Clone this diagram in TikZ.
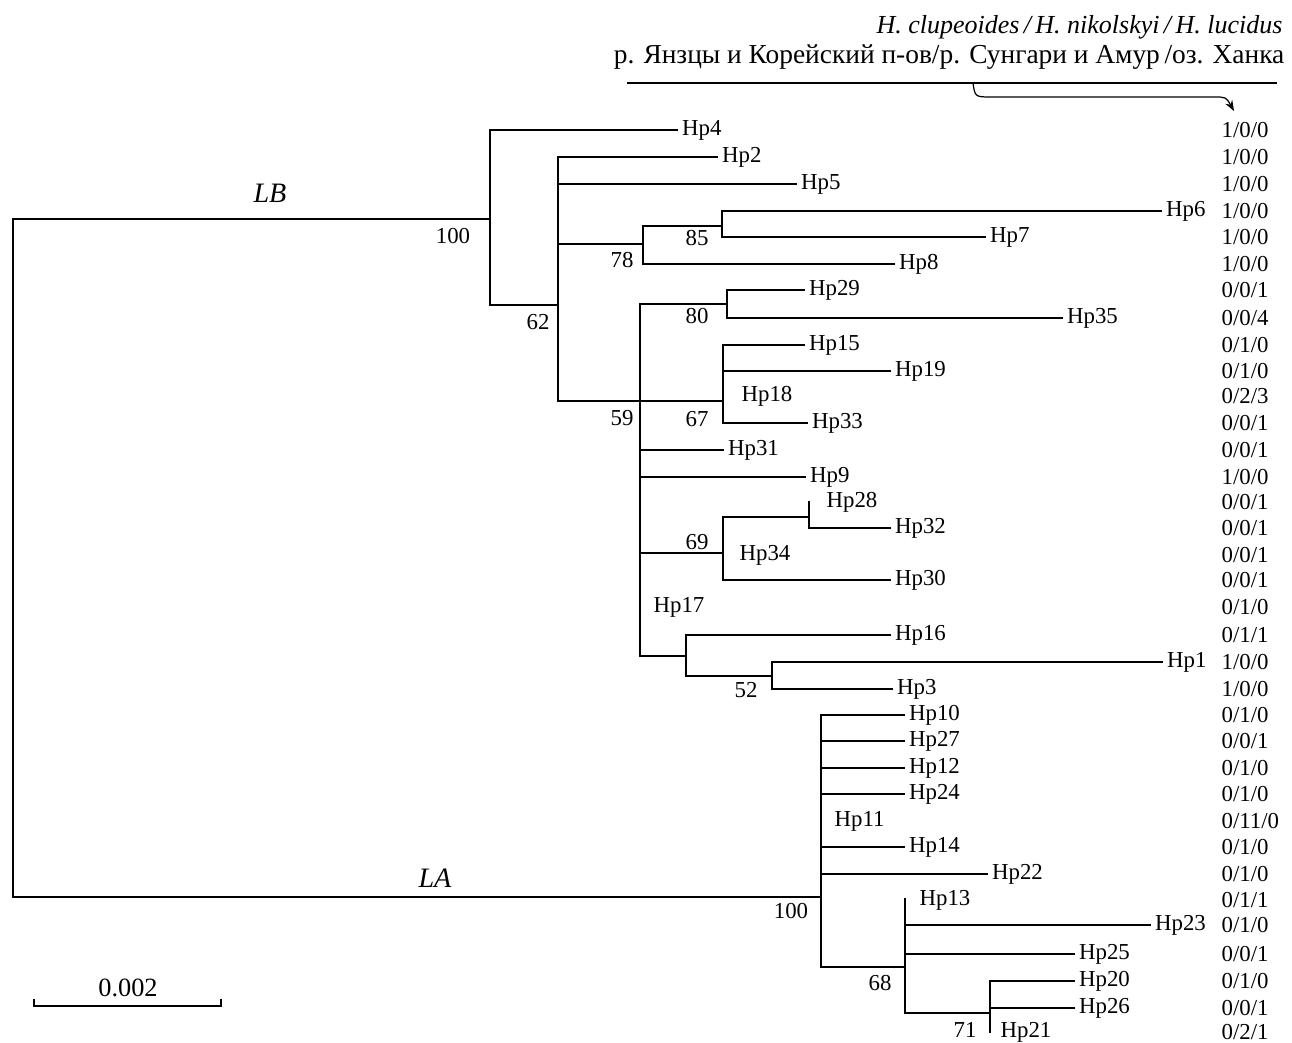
\documentclass[tikz,border=0pt]{standalone}
\usepackage{fontspec}
\setmainfont{Liberation Serif}
\usetikzlibrary{arrows.meta}
\tikzset{
  leaf/.style={anchor=west, inner sep=2pt, font=\fontsize{13}{15}\selectfont},
  tag/.style={anchor=west, inner sep=0pt, font=\fontsize{13}{15}\selectfont},
  boot/.style={inner sep=0pt, font=\fontsize{13}{15}\selectfont},
  cnt/.style={anchor=west, inner sep=0pt, font=\fontsize{13}{15}\selectfont},
  clade/.style={inner sep=0pt, font=\fontsize{16}{18}\selectfont\itshape}
}
\begin{document}
\begin{tikzpicture}[x=0.02cm, y=-0.02cm, line width=0.7pt]
  \useasboundingbox (0,0) rectangle (1292,1042);
  % header
  \node[anchor=base east, inner sep=0pt, font=\fontsize{14.8}{17}\selectfont\itshape] (spp) at (1283,33)
    {H. clupeoides\,/\,H. nikolskyi\,/\,H. lucidus};
  \node[anchor=base east, inner sep=0pt, font=\fontsize{15.6}{18}\selectfont] (rivers) at (1285,63)
    {р. Янзцы и Корейский п-ов/р. Сунгари и Амур\,/оз. Ханка};
  \coordinate (hl) at (627,83);
  \coordinate (hr) at (1277,83);
  \draw (hl) -- (hr);
  \coordinate (ast) at (973,83);
  \coordinate (aend) at (1234,111);
  \draw[-{Stealth[length=6pt, width=4.5pt]}] (ast) .. controls (975,97) .. (992,97)
    -- (1214,97) .. controls (1226,97) .. (aend);
  % root and the two lineages
  \coordinate (rB) at (13,219);
  \coordinate (rA) at (13,897);
  \coordinate (n100B) at (490,219);
  \coordinate (n100A) at (821,897);
  \draw (n100B) -- (rB) -- (rA) -- (n100A);
  \node[clade] (LB) at (270,193) {LB};
  \node[clade] (LA) at (435,878) {LA};
  % internal nodes
  \coordinate (n62) at (558,305);
  \coordinate (n78) at (643,244);
  \coordinate (n85) at (722,226);
  \coordinate (n59) at (640,401);
  \coordinate (n80) at (727,304);
  \coordinate (n67) at (723,401);
  \coordinate (n69) at (723,553);
  \coordinate (n69b) at (809,517);
  \coordinate (n52a) at (686,656);
  \coordinate (n52) at (772,676);
  \coordinate (n68) at (905,967);
  \coordinate (n71) at (990,1013);
  % leaves of LB
  \node[leaf] (hp4) at (678,130) {Hp4};
  \node[leaf] (hp2) at (718,157) {Hp2};
  \node[leaf] (hp5) at (797,184) {Hp5};
  \node[leaf] (hp6) at (1162,211) {Hp6};
  \node[leaf] (hp7) at (986,237) {Hp7};
  \node[leaf] (hp8) at (895,264) {Hp8};
  \node[leaf] (hp29) at (805,290) {Hp29};
  \node[leaf] (hp35) at (1063,318) {Hp35};
  \node[leaf] (hp15) at (805,345) {Hp15};
  \node[leaf] (hp19) at (891,371) {Hp19};
  \node[tag] (hp18) at (741,396) {Hp18};
  \node[leaf] (hp33) at (808,423) {Hp33};
  \node[leaf] (hp31) at (724,450) {Hp31};
  \node[leaf] (hp9) at (806,477) {Hp9};
  \node[tag] (hp28) at (826,502) {Hp28};
  \node[leaf] (hp32) at (891,528) {Hp32};
  \node[tag] (hp34) at (739,555) {Hp34};
  \node[leaf] (hp30) at (891,580) {Hp30};
  \node[tag] (hp17) at (653,607) {Hp17};
  \node[leaf] (hp16) at (891,635) {Hp16};
  \node[leaf] (hp1) at (1163,662) {Hp1};
  \node[leaf] (hp3) at (893,689) {Hp3};
  % leaves of LA
  \node[leaf] (hp10) at (905,715) {Hp10};
  \node[leaf] (hp27) at (905,741) {Hp27};
  \node[leaf] (hp12) at (905,768) {Hp12};
  \node[leaf] (hp24) at (905,794) {Hp24};
  \node[tag] (hp11) at (834,821) {Hp11};
  \node[leaf] (hp14) at (905,847) {Hp14};
  \node[leaf] (hp22) at (988,874) {Hp22};
  \node[tag] (hp13) at (919,900) {Hp13};
  \node[leaf] (hp23) at (1151,925) {Hp23};
  \node[leaf] (hp25) at (1075,954) {Hp25};
  \node[leaf] (hp20) at (1075,981) {Hp20};
  \node[leaf] (hp26) at (1075,1008) {Hp26};
  \node[tag] (hp21) at (1000,1032) {Hp21};
  % branches
  \draw (n100B) |- (hp4.west);
  \draw (n100B) |- (n62);
  \draw (n62) |- (hp2.west);
  \draw (n62) |- (hp5.west);
  \draw (n62) |- (n78);
  \draw (n62) |- (n59);
  \draw (n78) |- (n85);
  \draw (n78) |- (hp8.west);
  \draw (n85) |- (hp6.west);
  \draw (n85) |- (hp7.west);
  \draw (n59) |- (n80);
  \draw (n59) -- (n67);
  \draw (n59) |- (hp31.west);
  \draw (n59) |- (hp9.west);
  \draw (n59) |- (n69);
  \draw (n59) |- (n52a);
  \draw (n80) |- (hp29.west);
  \draw (n80) |- (hp35.west);
  \draw (n67) |- (hp15.west);
  \draw (n67) |- (hp19.west);
  \draw (n67) |- (hp33.west);
  \draw (n69) |- (n69b);
  \draw (n69) |- (hp30.west);
  \draw (n69b) -- ++(0,-16);
  \draw (n69b) |- (hp32.west);
  \draw (n52a) |- (hp16.west);
  \draw (n52a) |- (n52);
  \draw (n52) |- (hp1.west);
  \draw (n52) |- (hp3.west);
  \draw (n100A) |- (hp10.west);
  \draw (n100A) |- (hp27.west);
  \draw (n100A) |- (hp12.west);
  \draw (n100A) |- (hp24.west);
  \draw (n100A) |- (hp14.west);
  \draw (n100A) |- (hp22.west);
  \draw (n100A) |- (n68);
  \draw (n68) -- ++(0,-69);
  \draw (n68) |- (hp23.west);
  \draw (n68) |- (hp25.west);
  \draw (n68) |- (n71);
  \draw (n71) |- (hp20.west);
  \draw (n71) |- (hp26.west);
  \draw (n71) -- ++(0,20);
  % bootstrap values
  \node[boot] (b100B) at (453,236) {100};
  \node[boot] (b62) at (538,322) {62};
  \node[boot] (b78) at (622,260) {78};
  \node[boot] (b85) at (697,238) {85};
  \node[boot] (b80) at (697,316) {80};
  \node[boot] (b59) at (622,418) {59};
  \node[boot] (b67) at (697,419) {67};
  \node[boot] (b69) at (697,542) {69};
  \node[boot] (b52) at (746,690) {52};
  \node[boot] (b100A) at (791,911) {100};
  \node[boot] (b68) at (880,983) {68};
  \node[boot] (b71) at (965,1030) {71};
  % haplotype counts
  \foreach \y/\n [count=\i] in {130/{1/0/0}, 157/{1/0/0}, 184/{1/0/0}, 211/{1/0/0},
      237/{1/0/0}, 264/{1/0/0}, 290/{0/0/1}, 318/{0/0/4}, 345/{0/1/0}, 371/{0/1/0},
      396/{0/2/3}, 423/{0/0/1}, 450/{0/0/1}, 477/{1/0/0}, 502/{0/0/1}, 528/{0/0/1},
      555/{0/0/1}, 580/{0/0/1}, 607/{0/1/0}, 635/{0/1/1}, 662/{1/0/0}, 689/{1/0/0},
      715/{0/1/0}, 741/{0/0/1}, 768/{0/1/0}, 794/{0/1/0}, 821/{0/11/0}, 847/{0/1/0},
      874/{0/1/0}, 900/{0/1/1}, 925/{0/1/0}, 954/{0/0/1}, 981/{0/1/0}, 1008/{0/0/1},
      1032/{0/2/1}}
    \node[cnt] (c\i) at (1221,\y) {\n};
  % scale bar
  \coordinate (sl) at (34,999);
  \coordinate (sr) at (221,999);
  \draw (sl) -- ++(0,7) -| (sr);
  \node[boot, font=\fontsize{15}{17}\selectfont] (scale) at (128,988) {0.002};
\end{tikzpicture}
\end{document}
